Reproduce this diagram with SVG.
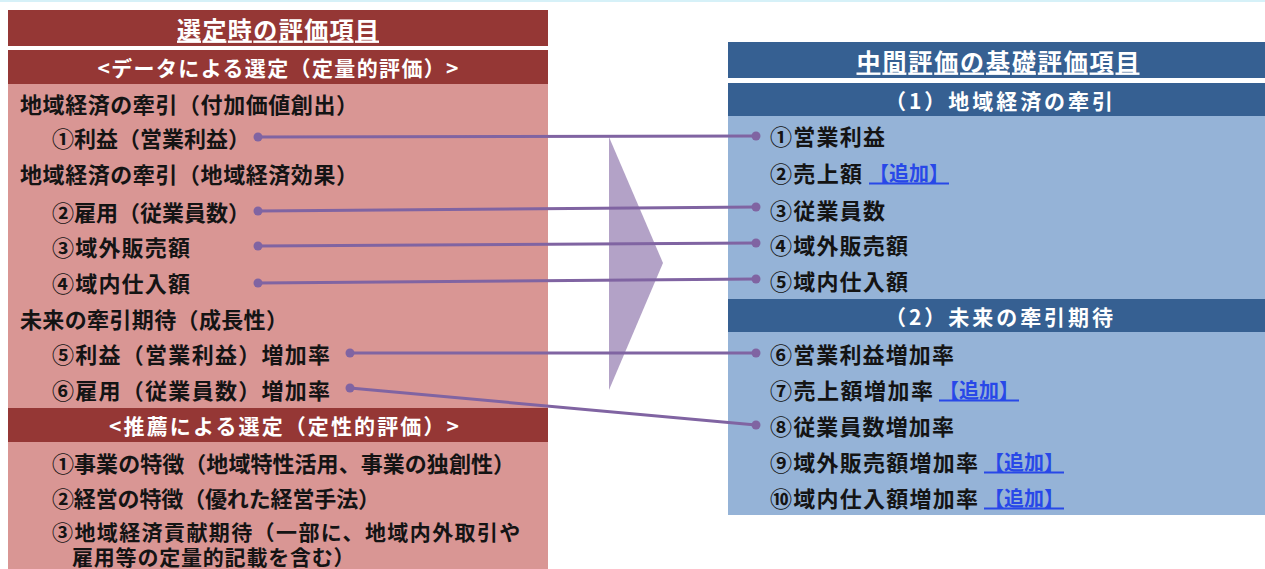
<svg xmlns="http://www.w3.org/2000/svg" width="1265" height="569" viewBox="0 0 1265 569">
<style>
text{font-family:"Noto Sans CJK JP","Noto Sans CJK SC",sans-serif;font-weight:bold;dominant-baseline:central;}
.t{font-size:22px;fill:#141414;}
.tt{font-size:21px;fill:#141414;}
.h{font-size:24px;fill:#ffffff;text-decoration:underline;}
.s{font-size:21px;fill:#ffffff;}
.a{font-size:20px;fill:#2848e8;text-decoration:underline;}
.red{fill:#953735;}
.pink{fill:#d99694;}
.navy{fill:#366092;}
.lb{fill:#95b3d7;}
.ln{stroke:#8064a2;stroke-width:3;fill:none;}
.dot{fill:#8064a2;}
</style>
<rect x="0" y="0" width="1265" height="2" fill="#d6f1f8"/>
<polygon points="609,137 663,263 609,390" fill="#b3a2c7"/>
<g id="left-panel">
<rect class="red" x="8" y="10" width="540" height="36"/>
<text class="h" x="278" y="28" text-anchor="middle" textLength="202" lengthAdjust="spacing">選定時の評価項目</text>
<rect class="red" x="8" y="50" width="540" height="34"/>
<text class="s" x="278" y="67" text-anchor="middle" textLength="361" lengthAdjust="spacing">&lt;データによる選定（定量的評価）&gt;</text>
<rect class="pink" x="8" y="84" width="540" height="324"/>
<text class="t" x="20" y="103" textLength="338" lengthAdjust="spacing">地域経済の牽引（付加価値創出）</text>
<text class="t" x="52" y="137" textLength="198" lengthAdjust="spacing">①利益（営業利益）</text>
<text class="t" x="20" y="173" textLength="338" lengthAdjust="spacing">地域経済の牽引（地域経済効果）</text>
<text class="t" x="52" y="211" textLength="198" lengthAdjust="spacing">②雇用（従業員数）</text>
<text class="t" x="52" y="246" textLength="138" lengthAdjust="spacing">③域外販売額</text>
<text class="t" x="52" y="282" textLength="138" lengthAdjust="spacing">④域内仕入額</text>
<text class="t" x="20" y="318" textLength="268" lengthAdjust="spacing">未来の牽引期待（成長性）</text>
<text class="t" x="52" y="353" textLength="278" lengthAdjust="spacing">⑤利益（営業利益）増加率</text>
<text class="t" x="52" y="389" textLength="278" lengthAdjust="spacing">⑥雇用（従業員数）増加率</text>
<rect class="red" x="8" y="408" width="540" height="34"/>
<text class="s" x="284" y="425" text-anchor="middle" textLength="350" lengthAdjust="spacing">&lt;推薦による選定（定性的評価）&gt;</text>
<rect class="pink" x="8" y="442" width="540" height="127"/>
<text class="t" x="52" y="462" textLength="463" lengthAdjust="spacing">①事業の特徴（地域特性活用、事業の独創性）</text>
<text class="t" x="52" y="497" textLength="328" lengthAdjust="spacing">②経営の特徴（優れた経営手法）</text>
<text class="tt"><tspan x="52" y="531" letter-spacing="1.4">③地域経済貢献期待（一部に、地域内外取引や</tspan><tspan x="72" y="556" letter-spacing="0.8">雇用等の定量的記載を含む）</tspan></text>
</g>
<g id="right-panel">
<rect class="navy" x="728" y="42" width="537" height="36"/>
<text class="h" x="998" y="60" text-anchor="middle" textLength="283" lengthAdjust="spacing">中間評価の基礎評価項目</text>
<rect class="navy" x="728" y="83" width="537" height="33"/>
<text class="s" x="999" y="100" text-anchor="middle" textLength="228" lengthAdjust="spacing">（1）地域経済の牽引</text>
<rect class="lb" x="728" y="116" width="537" height="183"/>
<text class="t" x="770" y="135" textLength="115" lengthAdjust="spacing">①営業利益</text>
<text class="t" x="770" y="172" textLength="92" lengthAdjust="spacing">②売上額</text>
<text class="a" x="869" y="172">【追加】</text>
<text class="t" x="770" y="209" textLength="115" lengthAdjust="spacing">③従業員数</text>
<text class="t" x="770" y="244" textLength="138" lengthAdjust="spacing">④域外販売額</text>
<text class="t" x="770" y="280" textLength="138" lengthAdjust="spacing">⑤域内仕入額</text>
<rect class="navy" x="728" y="299" width="537" height="33"/>
<text class="s" x="999" y="316" text-anchor="middle" textLength="228" lengthAdjust="spacing">（2）未来の牽引期待</text>
<rect class="lb" x="728" y="332" width="537" height="183"/>
<text class="t" x="770" y="353" textLength="184" lengthAdjust="spacing">⑥営業利益増加率</text>
<text class="t" x="770" y="389" textLength="163" lengthAdjust="spacing">⑦売上額増加率</text>
<text class="a" x="939" y="389">【追加】</text>
<text class="t" x="770" y="425" textLength="184" lengthAdjust="spacing">⑧従業員数増加率</text>
<text class="t" x="770" y="461" textLength="208" lengthAdjust="spacing">⑨域外販売額増加率</text>
<text class="a" x="984" y="461">【追加】</text>
<text class="t" x="770" y="497" textLength="208" lengthAdjust="spacing">⑩域内仕入額増加率</text>
<text class="a" x="984" y="497">【追加】</text>
</g>
<g id="connectors">
<line class="ln" x1="258" y1="137" x2="756" y2="136"/>
<line class="ln" x1="258" y1="211" x2="756" y2="207"/>
<line class="ln" x1="258" y1="246" x2="756" y2="243"/>
<line class="ln" x1="258" y1="283" x2="756" y2="279"/>
<line class="ln" x1="350" y1="353" x2="756" y2="353"/>
<line class="ln" x1="350" y1="388" x2="756" y2="425"/>
<circle class="dot" cx="258" cy="137" r="4.5"/><circle class="dot" cx="756" cy="136" r="4.5"/>
<circle class="dot" cx="258" cy="211" r="4.5"/><circle class="dot" cx="756" cy="207" r="4.5"/>
<circle class="dot" cx="258" cy="246" r="4.5"/><circle class="dot" cx="756" cy="243" r="4.5"/>
<circle class="dot" cx="258" cy="283" r="4.5"/><circle class="dot" cx="756" cy="279" r="4.5"/>
<circle class="dot" cx="350" cy="353" r="4.5"/><circle class="dot" cx="756" cy="353" r="4.5"/>
<circle class="dot" cx="350" cy="388" r="4.5"/><circle class="dot" cx="756" cy="425" r="4.5"/>
</g>
</svg>
